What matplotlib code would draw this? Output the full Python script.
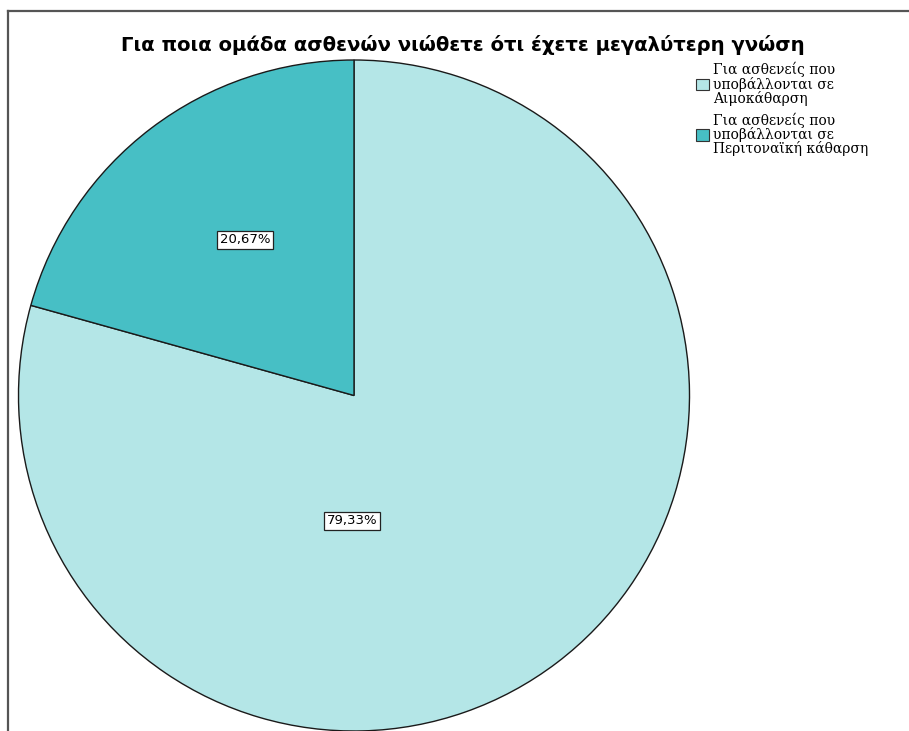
import matplotlib.pyplot as plt
from matplotlib.patches import Patch
from matplotlib.lines import Line2D

# Data
labels = ['Για ασθενείς που\nυποβάλλονται σε\nΑιμοκάθαρση',
          'Για ασθενείς που\nυποβάλλονται σε\nΠεριτοναϊκή κάθαρση']
shares = [79.33, 20.67]
colors = ['#b4e6e7', '#47bfc5']
title = 'Για ποια ομάδα ασθενών νιώθετε ότι έχετε μεγαλύτερη γνώση'

W, H = 909, 731
fig = plt.figure(figsize=(W / 100, H / 100), dpi=100)

# pie axes: centre (354, 395.5) px, radius 335.5 px
cx, cy, r = 354, 395.5, 335.5
ax = fig.add_axes([(cx - r) / W, (H - cy - r) / H, 2 * r / W, 2 * r / H])

wedges, texts = ax.pie(shares, colors=colors, startangle=90, counterclock=False,
                       radius=1, wedgeprops=dict(edgecolor='#1a1a1a', linewidth=1.0))
for w in wedges:
    w.set_clip_on(False)
ax.set_xlim(-1, 1)
ax.set_ylim(-1, 1)
ax.axis('off')

# percentage labels in small white boxes
pos = [(-0.006, -0.374), (-0.325, 0.4635)]
for val, (x, y) in zip(shares, pos):
    txt = f'{val:.2f}%'.replace('.', ',')
    ax.text(x, y, txt, ha='center', va='center', fontsize=9.5, family='DejaVu Sans',
            bbox=dict(boxstyle='square,pad=0.2', facecolor='white',
                      edgecolor='#222222', linewidth=0.9))

fig.text(462.5 / W, 1 - 45 / H, title, ha='center', va='center',
         fontsize=14.1, family='DejaVu Sans', fontweight='bold')

# legend on the right
handles = [Patch(facecolor=c, edgecolor='#333333', linewidth=0.8) for c in colors]
leg = fig.legend(handles, labels, loc='upper left', bbox_to_anchor=(696 / W, 1 - 62 / H),
                 frameon=False, handlelength=0.9, handleheight=0.9, handletextpad=0.3,
                 labelspacing=0.45, borderpad=0, borderaxespad=0,
                 prop={'family': 'DejaVu Serif', 'size': 10})
for t in leg.get_texts():
    t.set_linespacing(0.95)

# outer frame lines (left and top)
fig.add_artist(Line2D([8 / W, 8 / W], [0, 1 - 11 / H], transform=fig.transFigure,
                      color='#555555', linewidth=1.6))
fig.add_artist(Line2D([8 / W, 1], [1 - 11 / H, 1 - 11 / H], transform=fig.transFigure,
                      color='#555555', linewidth=1.6))

fig.savefig('out.png', dpi=100, facecolor='white')
